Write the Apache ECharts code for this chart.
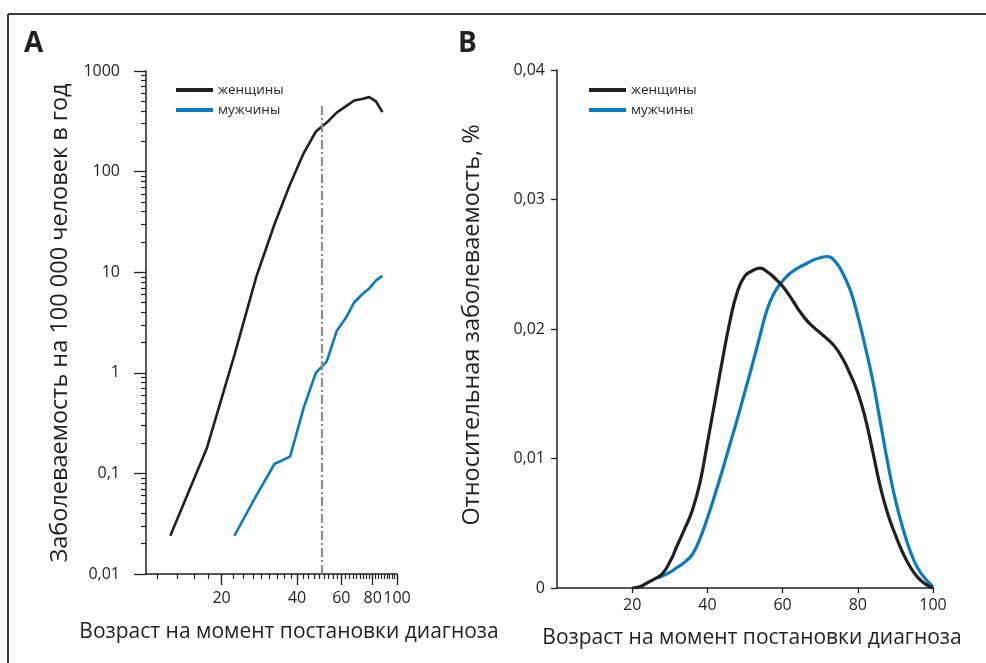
<!DOCTYPE html>
<html>
<head>
<meta charset="utf-8">
<script src="https://cdn.jsdelivr.net/npm/echarts@6/dist/echarts.min.js"></script>
<style>
  html, body { margin: 0; padding: 0; background: #fff; }
  #chart { width: 986px; height: 663px; }
</style>
</head>
<body>
<div id="chart"></div>
<script>
// ---- Panel A: incidence per 100 000 per year, log–log axes ----
const ageA_women  = [12.5, 17.5, 22.5, 27.5, 32.5, 37.5, 42.5, 47.5, 52.5, 57.5, 62.5, 67.5, 72.5, 77.5, 82.5, 87.5];
const rateA_women = [0.024, 0.18, 1.5, 9.0, 30, 75, 153, 250, 307, 386, 445, 509, 527, 550, 498, 390];
const ageA_men    = [22.5, 27.5, 32.5, 37.5, 42.5, 47.5, 52.5, 57.5, 62.5, 67.5, 72.5, 77.5, 82.5, 87.5];
const rateA_men   = [0.024, 0.06, 0.124, 0.147, 0.45, 1.0, 1.3, 2.6, 3.5, 5.0, 6.0, 6.9, 8.3, 9.2];
const cutoffAge = 50;
const cutoffLine = [0.01, 480];

// tick marks of panel A
const xTickMajorA = [20, 40, 60, 80, 100];
const xTickMinorA = [];
for (let k = 5; k <= 45; k++) xTickMinorA.push(+(k * 20 / 9).toFixed(3));
const yTickMinorA = [];
[0.01, 0.1, 1, 10, 100].forEach(d => { for (let m = 2; m <= 9; m++) yTickMinorA.push(+(d * m).toPrecision(3)); });

// ---- Panel B: relative incidence by age, % ----
const ageB_women  = [20, 22, 24, 26, 28, 30, 32, 34, 36, 38, 40, 42, 44, 46, 48, 50, 52, 54, 56, 58, 60,
                     62, 64, 66, 68, 70, 72, 74, 76, 78, 80, 82, 84, 86, 88, 90, 92, 94, 96, 98, 100];
const relB_women  = [0, 0.0001, 0.0004, 0.0007, 0.0011, 0.002, 0.0033, 0.0046, 0.006, 0.0081, 0.0112, 0.0144,
                     0.0176, 0.0206, 0.0229, 0.0241, 0.0245, 0.0247, 0.0244, 0.0239, 0.0233, 0.0225, 0.0216,
                     0.0208, 0.0202, 0.0197, 0.0192, 0.0186, 0.0177, 0.0165, 0.0151, 0.0131, 0.0105, 0.0078,
                     0.0057, 0.0041, 0.0027, 0.0016, 0.0008, 0.0003, 0];
const ageB_men    = [27, 30, 32, 34, 36, 38, 40, 42, 44, 46, 48, 50, 52, 54, 56, 58, 60, 62, 64, 66, 68, 70,
                     72, 74, 76, 78, 80, 82, 84, 86, 88, 90, 92, 94, 96, 98, 100];
const relB_men    = [0.0008, 0.0012, 0.0016, 0.002, 0.0026, 0.0038, 0.0054, 0.0072, 0.0091, 0.0111, 0.0131,
                     0.0152, 0.0173, 0.0195, 0.0216, 0.0229, 0.0237, 0.0243, 0.0247, 0.025, 0.0253, 0.0255,
                     0.0256, 0.0252, 0.0243, 0.023, 0.021, 0.0186, 0.016, 0.0128, 0.0096, 0.0068, 0.0046,
                     0.0028, 0.0015, 0.0007, 0.0001];
const xTickB = [20, 40, 60, 80, 100];

const seriesNames = ['женщины', 'мужчины'];
const axisTitleX = 'Возраст на момент постановки диагноза';
const axisTitleA = 'Заболеваемость на 100 000 человек в год';
const axisTitleB = 'Относительная заболеваемость, %';

const INK = '#231f20';
const BLUE = '#0b7bc1';
const GREY = '#8c8c8c';
const FONT = '"Open Sans", "Noto Sans", sans-serif';

const zip = (xs, ys) => xs.map((x, i) => [x, ys[i]]);
const comma = v => String(v).replace('.', ',');

const labelStyle = { color: INK, fontFamily: FONT, fontSize: 16 };
const axisLineStyle = { lineStyle: { color: INK, width: 1.5 } };
const legendText = { color: INK, fontFamily: FONT, fontSize: 13.5, lineHeight: 14 };

const chart = echarts.init(document.getElementById('chart'), null, { renderer: 'canvas' });

chart.setOption({
  animation: false,
  backgroundColor: '#fff',
  grid: [
    { left: 146, top: 71, width: 251, height: 503 },
    { left: 557, top: 70, width: 376, height: 518 }
  ],
  xAxis: [
    { // A: axis line + minor ticks
      type: 'log', gridIndex: 0, min: 10, max: 100, position: 'bottom', offset: 0,
      axisLine: axisLineStyle,
      axisTick: { show: true, length: 5, lineStyle: { color: INK, width: 1.2 }, customValues: xTickMinorA },
      axisLabel: { show: false },
      splitLine: { show: false }
    },
    { // A: major ticks + labels
      type: 'log', gridIndex: 0, min: 10, max: 100, position: 'bottom', offset: 0,
      axisLine: { show: false },
      axisTick: { show: true, length: 11, lineStyle: { color: INK, width: 1.3 }, customValues: xTickMajorA },
      axisLabel: Object.assign({ customValues: xTickMajorA, margin: 16, showMinLabel: true, showMaxLabel: true, hideOverlap: false }, labelStyle),
      splitLine: { show: false }
    },
    { // B
      type: 'value', gridIndex: 1, min: 0, max: 100, interval: 20, position: 'bottom',
      axisLine: axisLineStyle,
      axisTick: { show: true, length: 5, lineStyle: { color: INK, width: 1.3 }, customValues: xTickB },
      axisLabel: Object.assign({ customValues: xTickB, margin: 9 }, labelStyle),
      splitLine: { show: false }
    }
  ],
  yAxis: [
    { // A: major ticks + labels
      type: 'log', gridIndex: 0, min: 0.01, max: 1000, logBase: 10, position: 'left', offset: 0,
      axisLine: axisLineStyle,
      axisTick: { show: true, length: 12, lineStyle: { color: INK, width: 1.3 } },
      axisLabel: Object.assign({ margin: 26, formatter: comma }, labelStyle),
      splitLine: { show: false }
    },
    { // A: minor ticks
      type: 'log', gridIndex: 0, min: 0.01, max: 1000, logBase: 10, position: 'left', offset: 0,
      axisLine: { show: false },
      axisTick: { show: true, length: 5, lineStyle: { color: INK, width: 1.2 }, customValues: yTickMinorA },
      axisLabel: { show: false },
      splitLine: { show: false }
    },
    { // B
      type: 'value', gridIndex: 1, min: 0, max: 0.04, interval: 0.01, position: 'left',
      axisLine: axisLineStyle,
      axisTick: { show: true, length: 6, lineStyle: { color: INK, width: 1.3 } },
      axisLabel: Object.assign({ margin: 12, formatter: comma }, labelStyle),
      splitLine: { show: false }
    }
  ],
  legend: [
    {
      left: 171, top: 78, orient: 'vertical', icon: 'rect',
      itemWidth: 37, itemHeight: 4, itemGap: 6,
      data: seriesNames, textStyle: legendText
    },
    {
      left: 584, top: 78, orient: 'vertical', icon: 'rect',
      itemWidth: 37, itemHeight: 4, itemGap: 6,
      data: seriesNames, textStyle: legendText
    }
  ],
  series: [
    {
      name: seriesNames[0], type: 'line', xAxisIndex: 0, yAxisIndex: 0,
      data: zip(ageA_women, rateA_women), showSymbol: false,
      lineStyle: { color: INK, width: 2.6 }, itemStyle: { color: INK },
      z: 3,
      markLine: {
        silent: true, symbol: ['none', 'none'], label: { show: false },
        lineStyle: { color: GREY, width: 2.2, type: [9, 3, 2, 3] },
        data: [[{ coord: [cutoffAge, cutoffLine[0]] }, { coord: [cutoffAge, cutoffLine[1]] }]]
      }
    },
    {
      name: seriesNames[1], type: 'line', xAxisIndex: 0, yAxisIndex: 0,
      data: zip(ageA_men, rateA_men), showSymbol: false,
      lineStyle: { color: BLUE, width: 2.6 }, itemStyle: { color: BLUE },
      z: 3
    },
    {
      name: seriesNames[1], type: 'line', xAxisIndex: 2, yAxisIndex: 2,
      data: zip(ageB_men, relB_men), showSymbol: false, smooth: 0.5,
      lineStyle: { color: BLUE, width: 3.2 }, itemStyle: { color: BLUE }
    },
    {
      name: seriesNames[0], type: 'line', xAxisIndex: 2, yAxisIndex: 2,
      data: zip(ageB_women, relB_women), showSymbol: false, smooth: 0.5,
      lineStyle: { color: INK, width: 3.2 }, itemStyle: { color: INK }
    }
  ],
  graphic: [
    // frame
    { type: 'line', shape: { x1: 8, y1: 14, x2: 986, y2: 14 }, style: { stroke: '#3c3c3c', lineWidth: 2 } },
    { type: 'line', shape: { x1: 8, y1: 14, x2: 8, y2: 663 }, style: { stroke: '#3c3c3c', lineWidth: 2 } },
    // panel letters
    { type: 'text', x: 24, y: 44, style: { text: 'A', font: 'bold 28px ' + FONT, fill: INK, verticalAlign: 'middle' } },
    { type: 'text', x: 458, y: 44, style: { text: 'B', font: 'bold 28px ' + FONT, fill: INK, verticalAlign: 'middle' } },
    // axis titles
    { type: 'text', x: 60, y: 323, rotation: Math.PI / 2,
      style: { text: axisTitleA, font: '23.5px ' + FONT, fill: INK, align: 'center', verticalAlign: 'middle' } },
    { type: 'text', x: 472, y: 325, rotation: Math.PI / 2,
      style: { text: axisTitleB, font: '23.5px ' + FONT, fill: INK, align: 'center', verticalAlign: 'middle' } },
    { type: 'text', x: 289, y: 632,
      style: { text: axisTitleX, font: '21px ' + FONT, fill: INK, align: 'center', verticalAlign: 'middle' } },
    { type: 'text', x: 752, y: 638,
      style: { text: axisTitleX, font: '21px ' + FONT, fill: INK, align: 'center', verticalAlign: 'middle' } }
  ]
});
</script>
</body>
</html>
